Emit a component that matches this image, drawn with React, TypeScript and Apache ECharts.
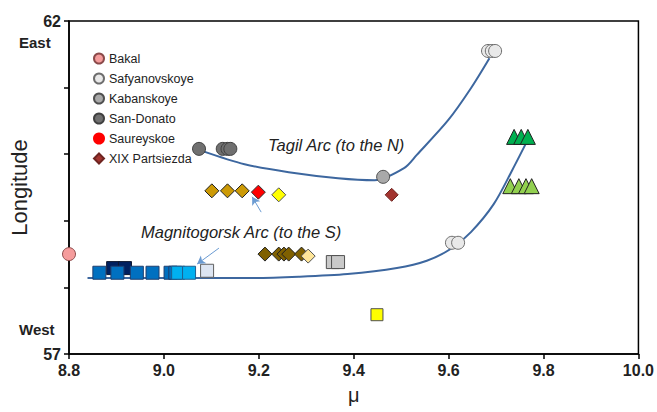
import React, { useEffect, useRef } from "react";
import * as echarts from "echarts";

// ---- data ----
const bakal = [[8.8, 58.5]];
const safyanovskoye = [[9.683, 61.55], [9.691, 61.55], [9.698, 61.55], [9.607, 58.67], [9.62, 58.67]];
const kabanskoye = [[9.462, 59.66]];
const sanDonato = [[9.074, 60.08], [9.124, 60.08], [9.134, 60.08], [9.14, 60.08]];
const saureyskoe = [[9.199, 59.43]];
const xixPartsiezda = [[9.48, 59.39]];
const goldDiamonds = [[9.101, 59.45], [9.134, 59.45], [9.165, 59.45]];
const yellowDiamond = [[9.242, 59.39]];
const oliveDiamonds = [[9.213, 58.5], [9.242, 58.5], [9.253, 58.5], [9.263, 58.5], [9.29, 58.5]];
const paleDiamond = [[9.304, 58.47]];
const greySquares = [[9.356, 58.38], [9.367, 58.38]];
const paleSquare = [[9.091, 58.25]];
const yellowSquare = [[9.449, 57.59]];
const navySquares = [[8.893, 58.29], [8.918, 58.29]];
const blueSquares = [[8.864, 58.22], [8.902, 58.22], [8.943, 58.22], [8.976, 58.22], [9.014, 58.22], [9.024, 58.22]];
const cyanSquares = [[9.03, 58.22], [9.053, 58.22]];
const darkTriangles = [[9.738, 60.26], [9.753, 60.26], [9.767, 60.26]];
const lightTriangles = [[9.73, 59.52], [9.748, 59.52], [9.763, 59.52], [9.775, 59.52]];

const tagilCurve = [[9.08, 60.05], [9.17, 59.85], [9.263, 59.73], [9.367, 59.64], [9.444, 59.61], [9.506, 59.79], [9.533, 59.99], [9.599, 60.51], [9.647, 60.99], [9.686, 61.44]];
const magnitogorskCurve = [[8.839, 58.14], [8.972, 58.14], [9.18, 58.14], [9.284, 58.16], [9.387, 58.2], [9.491, 58.29], [9.554, 58.4], [9.605, 58.58], [9.647, 58.83], [9.695, 59.25], [9.734, 59.76], [9.772, 60.29]];

const arrowToTagil = [[9.205, 59.13], [9.186, 59.36]];
const arrowToMagnitogorsk = [[9.116, 58.59], [9.07, 58.35]];

const xTicks = { min: 8.8, max: 10.0, interval: 0.2 };
const yTicks = { min: 57, max: 62, interval: 1 };

const FONT = "'Liberation Sans', Arial, sans-serif";

function scatter(name: string, data: number[][], symbol: string, size: number, color: string, border: string) {
  return {
    name,
    type: "scatter",
    data,
    symbol,
    symbolSize: size,
    itemStyle: { color, borderColor: border, borderWidth: 1, opacity: 1 },
    emphasis: { disabled: true },
    z: 3,
  };
}

export default function App() {
  const ref = useRef<HTMLDivElement>(null);
  useEffect(() => {
    if (!ref.current) return;
    const chart = echarts.init(ref.current, null, { renderer: "svg" });
    const curveStyle = { color: "#3D679F", width: 2 };
    chart.setOption({
      animation: false,
      grid: { left: 67, right: 12, top: 21, bottom: 58, show: true, borderColor: "#000", borderWidth: 1.5, backgroundColor: "transparent" },
      legend: {
        orient: "vertical",
        left: 88,
        top: 47,
        itemWidth: 10,
        itemHeight: 10,
        itemGap: 7,
        textStyle: { fontFamily: FONT, fontSize: 12.5, color: "#222" },
        data: [
          { name: "Bakal", icon: "circle" },
          { name: "Safyanovskoye", icon: "circle" },
          { name: "Kabanskoye", icon: "circle" },
          { name: "San-Donato", icon: "circle" },
          { name: "Saureyskoe", icon: "circle", itemStyle: { borderColor: "#FF0000" } },
          { name: "XIX Partsiezda", icon: "diamond" },
        ],
      },
      xAxis: {
        type: "value",
        ...xTicks,
        name: "μ",
        nameLocation: "middle",
        nameGap: 31,
        nameTextStyle: { fontFamily: FONT, fontSize: 20, color: "#222" },
        axisLine: { show: true, lineStyle: { color: "#000", width: 1.5 } },
        axisTick: { show: true, length: 5, lineStyle: { color: "#000", width: 1.5 } },
        axisLabel: { fontFamily: FONT, fontSize: 16, fontWeight: "bold", color: "#222", margin: 8, formatter: (v: number) => v.toFixed(1) },
        splitLine: { show: false },
      },
      yAxis: {
        type: "value",
        ...yTicks,
        name: "Longitude",
        nameLocation: "middle",
        nameRotate: 90,
        nameGap: 39,
        nameTextStyle: { fontFamily: FONT, fontSize: 22, color: "#222" },
        axisLine: { show: true, lineStyle: { color: "#000", width: 1.5 } },
        axisTick: { show: true, length: 5, lineStyle: { color: "#000", width: 1.5 } },
        axisLabel: {
          fontFamily: FONT, fontSize: 16, fontWeight: "bold", color: "#222", margin: 8,
          formatter: (v: number) => (v === 62 || v === 57 ? String(v) : ""),
        },
        splitLine: { show: false },
      },
      graphic: [
        { type: "text", left: 19, top: 35, style: { text: "East", font: `bold 15px ${FONT}`, fill: "#222" } },
        { type: "text", left: 19, top: 322, style: { text: "West", font: `bold 15px ${FONT}`, fill: "#222" } },
        { type: "text", left: 268, top: 136, style: { text: "Tagil Arc (to the N)", font: `italic 16.5px ${FONT}`, fill: "#222" } },
        { type: "text", left: 141, top: 223, style: { text: "Magnitogorsk Arc (to the S)", font: `italic 16.5px ${FONT}`, fill: "#222" } },
      ],
      series: [
        {
          name: "Tagil curve", type: "line", data: tagilCurve, smooth: 0.3, showSymbol: false,
          lineStyle: curveStyle, itemStyle: { color: curveStyle.color }, z: 2, emphasis: { disabled: true },
        },
        {
          name: "Magnitogorsk curve", type: "line", data: magnitogorskCurve, smooth: 0.3, showSymbol: false,
          lineStyle: curveStyle, itemStyle: { color: curveStyle.color }, z: 2, emphasis: { disabled: true },
          markLine: {
            silent: true,
            symbol: ["none", "arrow"],
            symbolSize: [7, 8],
            label: { show: false },
            lineStyle: { color: "#6B9BD2", width: 1, type: "solid" },
            data: [
              [{ coord: arrowToTagil[0] }, { coord: arrowToTagil[1] }],
              [{ coord: arrowToMagnitogorsk[0] }, { coord: arrowToMagnitogorsk[1] }],
            ],
          },
        },
        scatter("Bakal", bakal, "circle", 13, "#F59C9C", "#8B4A4A"),
        scatter("Safyanovskoye", safyanovskoye, "circle", 13, "#E9E9E9", "#6E6E6E"),
        scatter("Kabanskoye", kabanskoye, "circle", 13, "#A9A9A9", "#505050"),
        scatter("San-Donato", sanDonato, "circle", 13, "#707070", "#404040"),
        scatter("Saureyskoe", saureyskoe, "diamond", 14, "#FF0000", "#303030"),
        scatter("XIX Partsiezda", xixPartsiezda, "diamond", 13, "#A3342F", "#6E2420"),
        scatter("gold", goldDiamonds, "diamond", 14, "#CC9A06", "#202020"),
        scatter("yellowD", yellowDiamond, "diamond", 14, "#FFFF00", "#505050"),
        scatter("olive", oliveDiamonds, "diamond", 14, "#7F6000", "#202020"),
        scatter("paleD", paleDiamond, "diamond", 14, "#FFE699", "#505050"),
        scatter("greySq", greySquares, "rect", 13, "#C9C9C9", "#505050"),
        scatter("yellowSq", yellowSquare, "rect", 12, "#FFFF00", "#505050"),
        scatter("navySq", navySquares, "rect", 13, "#002060", "#101830"),
        scatter("blueSq", blueSquares, "rect", 13, "#0070C0", "#1F3F6F"),
        scatter("cyanSq", cyanSquares, "rect", 13, "#00B0F0", "#1F5F8F"),
        scatter("paleSq", paleSquare, "rect", 13, "#DDE5F2", "#606060"),
        scatter("darkTri", darkTriangles, "triangle", 15, "#00B050", "#202020"),
        scatter("lightTri", lightTriangles, "triangle", 15, "#92D050", "#202020"),
      ],
    });
    return () => chart.dispose();
  }, []);
  return <div ref={ref} style={{ width: 657, height: 412, position: "absolute", left: 0, top: 0 }} />;
}
